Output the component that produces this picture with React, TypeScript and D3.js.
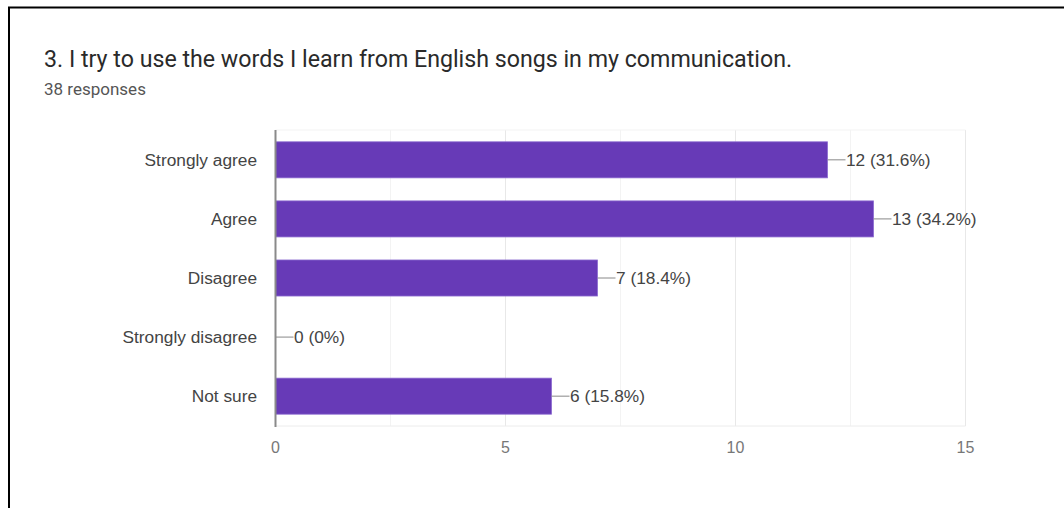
import React from "react";
import * as d3 from "d3";

const categories = ["Strongly agree", "Agree", "Disagree", "Strongly disagree", "Not sure"];
const counts = [12, 13, 7, 0, 6];
const percents = ["31.6%", "34.2%", "18.4%", "0%", "15.8%"];
const majorTicks = [0, 5, 10, 15];
const minorTicks = [2.5, 7.5, 12.5];
const title = "3. I try to use the words I learn from English songs in my communication.";
const subtitle = "38 responses";

const W = 1064;
const H = 508;
const plot = { left: 275.5, right: 965.5, top: 130, bottom: 426 };

export default function App() {
  const x = d3.scaleLinear().domain([0, 15]).range([plot.left, plot.right]);
  const y = d3
    .scaleBand<string>()
    .domain(categories)
    .range([plot.top, plot.bottom])
    .paddingInner(0.39)
    .paddingOuter(0.2);
  const labelFont = "'Liberation Sans', Arial, sans-serif";
  return (
    <svg
      width={W}
      height={H}
      style={{ position: "absolute", left: 0, top: 0, background: "#fff" }}
    >
      <rect x={0} y={0} width={W} height={H} fill="#fff" />
      {/* border */}
      <line x1={8} y1={7.5} x2={W} y2={7.5} stroke="#000" strokeWidth={2} />
      <line x1={9} y1={7} x2={9} y2={H} stroke="#000" strokeWidth={2} />
      <text
        x={44}
        y={67}
        fontFamily="Roboto, 'Open Sans', sans-serif"
        fontSize={23.2}
        fill="#2a2a2a"
      >
        {title}
      </text>
      <text x={44} y={95} fontFamily="Roboto, sans-serif" fontSize={17} fill="#555">
        {subtitle}
      </text>
      {/* gridlines */}
      {majorTicks.concat(minorTicks).map((t) => (
        <line
          key={"g" + t}
          x1={x(t)}
          x2={x(t)}
          y1={plot.top}
          y2={plot.bottom}
          stroke={minorTicks.includes(t) ? "#f3f3f3" : "#e8e8e8"}
          strokeWidth={1}
        />
      ))}
      <line x1={plot.left} x2={plot.right} y1={plot.top} y2={plot.top} stroke="#f3f3f3" />
      <line x1={plot.left} x2={plot.right} y1={plot.bottom} y2={plot.bottom} stroke="#ececec" />
      {/* bars */}
      {categories.map((c, i) => {
        const y0 = y(c)!;
        const bw = y.bandwidth();
        const xe = x(counts[i]);
        return (
          <g key={c}>
            {counts[i] > 0 && (
              <rect
                x={plot.left}
                y={y0}
                width={xe - plot.left}
                height={bw}
                fill="#673ab7"
                stroke="#8c6ad0"
                strokeWidth={0.8}
              />
            )}
            <line x1={xe} x2={xe + 18} y1={y0 + bw / 2} y2={y0 + bw / 2} stroke="#888" strokeWidth={1} />
            <text
              x={xe + 18.5}
              y={y0 + bw / 2}
              dy="0.35em"
              fontFamily={labelFont}
              fontSize={17.3}
              fill="#444"
            >
              {`${counts[i]} (${percents[i]})`}
            </text>
            <text
              x={257}
              y={y0 + bw / 2}
              dy="0.35em"
              textAnchor="end"
              fontFamily={labelFont}
              fontSize={17.3}
              fill="#444"
            >
              {c}
            </text>
          </g>
        );
      })}
      {/* axis line */}
      <line x1={plot.left} x2={plot.left} y1={plot.top} y2={plot.bottom + 1} stroke="#8a8a8a" strokeWidth={2} />
      {majorTicks.map((t) => (
        <text
          key={"t" + t}
          x={x(t)}
          y={447}
          dy="0.35em"
          textAnchor="middle"
          fontFamily={labelFont}
          fontSize={16}
          fill="#777"
        >
          {t}
        </text>
      ))}
    </svg>
  );
}
